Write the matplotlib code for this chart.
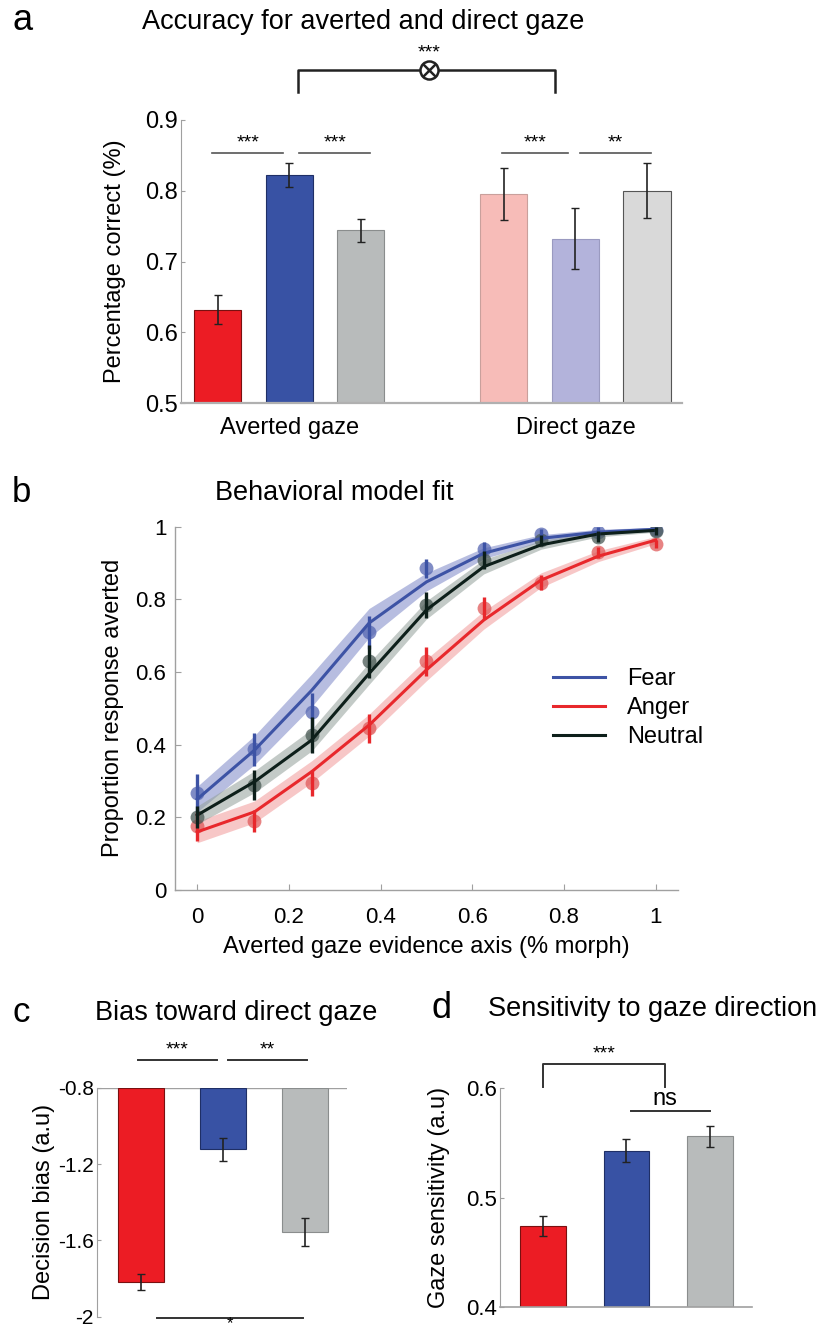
import numpy as np
import matplotlib
matplotlib.use('Agg')
import matplotlib.pyplot as plt

plt.rcParams['font.family'] = 'Liberation Sans'

W, H = 824, 1332

# ---------------- data ----------------
# panel a
acc_labels = ['Averted gaze', 'Direct gaze']
acc_averted = [0.632, 0.822, 0.744]
acc_averted_err = [0.021, 0.017, 0.016]
acc_direct = [0.795, 0.732, 0.800]
acc_direct_err = [0.037, 0.043, 0.039]

# panel b
morph = [0, 0.125, 0.25, 0.375, 0.5, 0.625, 0.75, 0.875, 1.0]
fear_obs = [0.268, 0.387, 0.491, 0.709, 0.885, 0.939, 0.979, 0.986, 0.990]
anger_obs = [0.176, 0.191, 0.294, 0.445, 0.630, 0.777, 0.846, 0.929, 0.952]
neutral_obs = [0.202, 0.289, 0.427, 0.629, 0.785, 0.908, 0.963, 0.972, 0.988]
fear_err = [0.05, 0.045, 0.05, 0.045, 0.025, 0.02, 0.015, 0.012, 0.01]
anger_err = [0.04, 0.03, 0.035, 0.04, 0.04, 0.03, 0.02, 0.015, 0.012]
neutral_err = [0.03, 0.04, 0.05, 0.045, 0.035, 0.025, 0.015, 0.015, 0.01]
fear_fit = [0.25, 0.385, 0.55, 0.735, 0.848, 0.927, 0.968, 0.985, 0.993]
anger_fit = [0.16, 0.215, 0.326, 0.454, 0.606, 0.743, 0.853, 0.919, 0.963]
neutral_fit = [0.206, 0.298, 0.413, 0.596, 0.771, 0.89, 0.95, 0.98, 0.99]
fear_band = [0.035, 0.04, 0.045, 0.04, 0.025, 0.015, 0.01, 0.008, 0.005]
anger_band = [0.03, 0.03, 0.03, 0.03, 0.03, 0.025, 0.02, 0.015, 0.01]
neutral_band = [0.025, 0.03, 0.03, 0.03, 0.025, 0.02, 0.012, 0.008, 0.005]

# panel c
bias = [-1.817, -1.123, -1.555]
bias_err = [0.041, 0.062, 0.074]

# panel d
sens = [0.474, 0.543, 0.556]
sens_err = [0.009, 0.0105, 0.010]

RED, BLUE, GREY = '#ec1c24', '#3852a4', '#b8bbbb'
PINK, LAV, LGREY = '#f7bcb8', '#b3b3db', '#d9d9d9'
SPINE = '#a0a0a0'


def ax_rect(l, r, t, b):
    return [l / W, 1 - b / H, (r - l) / W, (b - t) / H]


def ftext(x, y, s, **kw):
    fig.text(x / W, 1 - y / H, s, **kw)


fig = plt.figure(figsize=(8.24, 13.32), dpi=100)

# ================= a =================
ax = fig.add_axes(ax_rect(181, 682, 120, 403))
pos_av = [1, 2, 3]
pos_di = [5, 6, 7]
ax.bar(pos_av, [v - 0.5 for v in acc_averted], bottom=0.5, width=0.66,
       color=[RED, BLUE, GREY], edgecolor=['#7a1010', '#1f2f66', '#8a8d8d'], linewidth=0.8)
ax.bar(pos_di, [v - 0.5 for v in acc_direct], bottom=0.5, width=0.66,
       color=[PINK, LAV, LGREY], edgecolor=['#c9a09c', '#9a9ac0', '#555555'], linewidth=0.8)
ax.errorbar(pos_av, acc_averted, yerr=acc_averted_err, fmt='none', ecolor='#222222',
            elinewidth=1.2, capsize=3)
ax.errorbar(pos_di, acc_direct, yerr=acc_direct_err, fmt='none', ecolor='#222222',
            elinewidth=1.2, capsize=3)
ax.set_xlim(0.487, 7.49)
ax.set_ylim(0.5, 0.9)
ax.set_yticks([0.5, 0.6, 0.7, 0.8, 0.9])
ax.set_yticklabels(['0.5', '0.6', '0.7', '0.8', '0.9'], fontsize=17)
ax.set_xticks([])
for s in ['top', 'right']:
    ax.spines[s].set_visible(False)
ax.spines['left'].set_color(SPINE)
ax.spines['left'].set_linewidth(0.8)
ax.spines['bottom'].set_color('#b0b0b0')
ax.spines['bottom'].set_linewidth(1.6)
ax.tick_params(axis='y', direction='in', length=3, color=SPINE, pad=2)
ax.set_ylabel('Percentage correct (%)', fontsize=17, labelpad=14)

# significance lines
for x0, x1, txt in [(0.925, 1.915, '***'), (2.14, 3.13, '***'), (4.98, 5.89, '***'), (6.06, 7.05, '**')]:
    ax.plot([x0, x1], [0.853, 0.853], color='#555555', lw=1.2, clip_on=False)
    ax.text((x0 + x1) / 2, 0.856, txt, ha='center', va='bottom', fontsize=14)
ax.plot([2.12, 2.12, 5.71, 5.71], [0.939, 0.970, 0.970, 0.939], color='#222222', lw=1.8, clip_on=False)
ax.plot([3.96], [0.970], marker='o', ms=13, mfc='white', mec='#222222', mew=1.8, clip_on=False)
ax.plot([3.96], [0.970], marker='x', ms=9, mec='#222222', mew=1.8, clip_on=False)
ax.text(3.96, 0.983, '***', ha='center', va='bottom', fontsize=14)

ax.text(2, 0.465, acc_labels[0], ha='center', va='center', fontsize=17)
ax.text(6, 0.465, acc_labels[1], ha='center', va='center', fontsize=17)

ftext(12, 20, 'a', va='center', ha='left', fontsize=26)
ftext(363, 22, 'Accuracy for averted and direct gaze', va='center', ha='center', fontsize=19.5)

# ================= b =================
ax = fig.add_axes(ax_rect(174.7, 678.2, 526.7, 890))
series = [
    (fear_obs, fear_err, fear_fit, fear_band, '#3d53a5', '#7d88c8', '#5566b2', 'Fear'),
    (anger_obs, anger_err, anger_fit, anger_band, '#e8282c', '#f29a9a', '#e05a5a', 'Anger'),
    (neutral_obs, neutral_err, neutral_fit, neutral_band, '#0d1f1a', '#93a09a', '#4a5a55', 'Neutral'),
]
handles = []
for obs, err, fit, band, lc, bc, dc, lab in series:
    lo = [f - b for f, b in zip(fit, band)]
    hi = [f + b for f, b in zip(fit, band)]
    ax.fill_between(morph, lo, hi, color=bc, alpha=0.55, lw=0, zorder=1)
for obs, err, fit, band, lc, bc, dc, lab in series:
    ax.plot(morph, obs, 'o', ms=10, color=dc, alpha=0.75, mew=0, zorder=2)
for obs, err, fit, band, lc, bc, dc, lab in series:
    h, = ax.plot(morph, fit, color=lc, lw=2.2, zorder=3, label=lab)
    handles.append(h)
    ax.errorbar(morph, obs, yerr=err, fmt='none', ecolor=lc, elinewidth=2.4, zorder=4)
ax.set_xlim(-0.049, 1.049)
ax.set_ylim(0, 1)
ax.set_xticks([0, 0.2, 0.4, 0.6, 0.8, 1])
ax.set_xticklabels(['0', '0.2', '0.4', '0.6', '0.8', '1'], fontsize=16)
ax.set_yticks([0, 0.2, 0.4, 0.6, 0.8, 1])
ax.set_yticklabels(['0', '0.2', '0.4', '0.6', '0.8', '1'], fontsize=16)
for s in ['top', 'right']:
    ax.spines[s].set_visible(False)
for s in ['left', 'bottom']:
    ax.spines[s].set_color(SPINE)
    ax.spines[s].set_linewidth(1.0)
ax.tick_params(axis='x', direction='in', length=4, color=SPINE, pad=12)
ax.tick_params(axis='y', direction='in', length=4, color=SPINE, pad=6)
ax.set_ylabel('Proportion response averted', fontsize=17, labelpad=8)
ax.set_xlabel('Averted gaze evidence axis (% morph)', fontsize=17, labelpad=6)
leg = ax.legend(handles=handles, loc='upper left', bbox_to_anchor=(0.71, 0.67), frameon=False,
                prop={'size': 17}, handlelength=2.2, handletextpad=0.9, labelspacing=0.3)

ftext(12, 492, 'b', va='center', ha='left', fontsize=25)
ftext(334, 493, 'Behavioral model fit', va='center', ha='center', fontsize=19.5)

# ================= c =================
ax = fig.add_axes(ax_rect(96.7, 347, 1087.7, 1316.7))
pos = [1, 2, 3]
ax.bar(pos, [v + 0.8 for v in bias], bottom=-0.8, width=0.56,
       color=[RED, BLUE, GREY], edgecolor=['#7a1010', '#1f2f66', '#8a8d8d'], linewidth=0.8)
ax.errorbar(pos, bias, yerr=bias_err, fmt='none', ecolor='#222222', elinewidth=1.2, capsize=3)
ax.axhline(-0.8, color=SPINE, lw=1.0, zorder=0)
ax.set_xlim(0.463, 3.51)
ax.set_ylim(-2, -0.8)
ax.set_yticks([-2, -1.6, -1.2, -0.8])
ax.set_yticklabels(['-2', '-1.6', '-1.2', '-0.8'], fontsize=15)
ax.set_xticks([])
for s in ['top', 'right', 'bottom']:
    ax.spines[s].set_visible(False)
ax.spines['left'].set_color(SPINE)
ax.spines['left'].set_linewidth(0.8)
ax.tick_params(axis='y', direction='in', length=3, color=SPINE, pad=2)
ax.set_ylabel('Decision bias (a.u)', fontsize=17, labelpad=2)
for x0, x1, txt in [(0.963, 1.927, '***'), (2.06, 3.02, '**')]:
    ax.plot([x0, x1], [-0.655, -0.655], color='#333333', lw=1.4, clip_on=False)
    ax.text((x0 + x1) / 2, -0.648, txt, ha='center', va='bottom', fontsize=14)
ax.plot([1.195, 2.976], [-2.008, -2.008], color='#333333', lw=1.4, clip_on=False)
ax.text(2.08, -2.036, '*', ha='center', va='center', fontsize=12)

ftext(13, 1013, 'c', fontsize=25, va='center', ha='left')
ftext(236, 1013, 'Bias toward direct gaze', fontsize=19.5, va='center', ha='center')

# ================= d =================
ax = fig.add_axes(ax_rect(500, 751.7, 1088.3, 1307.3))
ax.bar(pos, [v - 0.4 for v in sens], bottom=0.4, width=0.55,
       color=[RED, BLUE, GREY], edgecolor=['#7a1010', '#1f2f66', '#8a8d8d'], linewidth=0.8)
ax.errorbar(pos, sens, yerr=sens_err, fmt='none', ecolor='#222222', elinewidth=1.2, capsize=3)
ax.set_xlim(0.485, 3.5)
ax.set_ylim(0.4, 0.6)
ax.set_yticks([0.4, 0.5, 0.6])
ax.set_yticklabels(['0.4', '0.5', '0.6'], fontsize=16)
ax.set_xticks([])
for s in ['top', 'right']:
    ax.spines[s].set_visible(False)
ax.spines['left'].set_color(SPINE)
ax.spines['left'].set_linewidth(0.8)
ax.spines['bottom'].set_color(SPINE)
ax.spines['bottom'].set_linewidth(1.2)
ax.tick_params(axis='y', direction='in', length=3, color=SPINE, pad=2)
ax.set_ylabel('Gaze sensitivity (a.u)', fontsize=17, labelpad=12)
ax.plot([1.0, 1.0, 2.46, 2.46], [0.601, 0.622, 0.622, 0.601], color='#333333', lw=1.4, clip_on=False)
ax.text(1.73, 0.6235, '***', ha='center', va='bottom', fontsize=14)
ax.plot([2.05, 3.0], [0.579, 0.579], color='#333333', lw=1.4, clip_on=False)
ax.text(2.46, 0.5805, 'ns', ha='center', va='bottom', fontsize=17)

ftext(431, 1009, 'd', fontsize=26, va='center', ha='left')
ftext(653, 1009, 'Sensitivity to gaze direction', fontsize=19.5, va='center', ha='center')

fig.savefig('out.png', dpi=100)
